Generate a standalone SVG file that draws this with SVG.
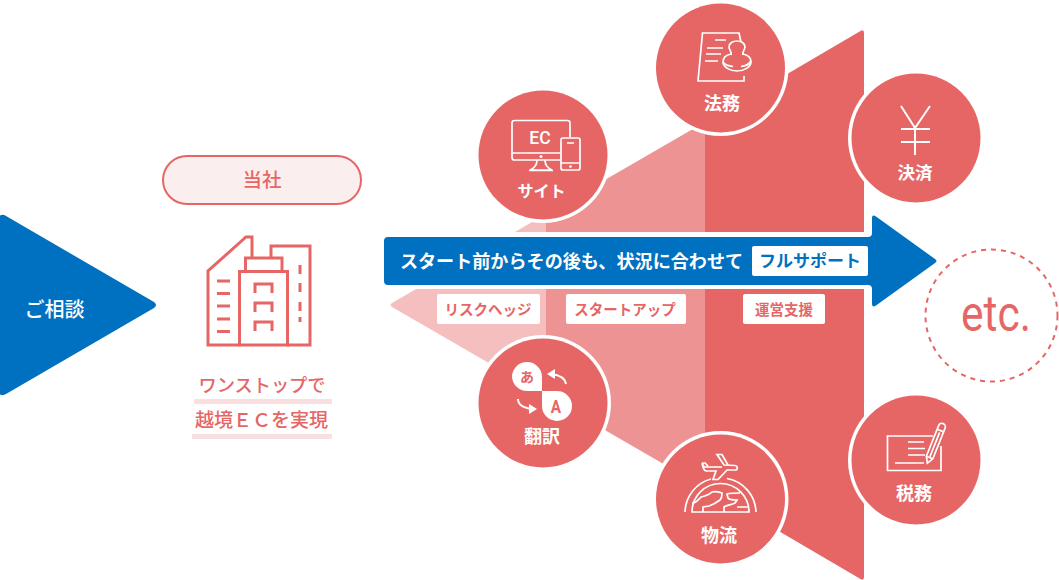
<svg xmlns="http://www.w3.org/2000/svg" width="1059" height="580" viewBox="0 0 1059 580">
<style>
text{font-family:"Noto Sans CJK JP","Noto Sans",sans-serif;font-weight:700;text-anchor:middle}
.w{fill:#fff}.r{fill:#e66666}.b{fill:#0070c0}
.ic{fill:none;stroke:#fff;stroke-width:1.7}
.ib{fill:none;stroke:#e66666;stroke-width:3}
.ring{fill:#fff}.disc{fill:#e66666}
.t16{font-size:16px}.t18{font-size:18px}.t14{font-size:14.500px}
</style>
<g id="funnel">
<path d="M546 214L392 303Q389 305 392 307L546 396Z" fill="#f5bfbf"/>
<path d="M546 214L705 122V488L546 396Z" fill="#ee9393"/>
<path d="M705 122L860.500 31Q864 29 864 33V577Q864 581 860.500 579L705 488Z" fill="#e66666"/>
<rect x="380" y="232" width="500" height="57" fill="#fff"/>
</g>
<g id="start">
<path d="M0 215.500Q3 214 6 216L154 302Q158 305 154 308L6 394Q3 396 0 394.500Z" class="b"/>
<text x="54.500" y="316.500" class="w" style="font-size:20px;font-weight:500">ご相談</text>
</g>
<g id="company">
<rect x="163" y="156" width="198" height="48" rx="24" fill="#fbeeee" stroke="#e66666" stroke-width="2"/>
<text x="262" y="187" class="r" style="font-size:19.500px;font-weight:500">当社</text>
<g class="ib">
<path d="M239 345H208V271L246 237H252V258"/>
<path d="M271 258V246H310V345H287"/>
<rect x="245.500" y="258" width="36.500" height="13.500"/>
<rect x="239.500" y="271.500" width="48" height="73.500"/>
<path d="M217 281H230M217 293.500H230M217 306H230M217 319H230M217 331.500H230"/>
<path d="M300 265V274M300 283V292M300 302V311M300 317V322" />
<path d="M255 293V284H272V293M255 312V303H272V312M255 331V322H272V331"/>
</g>
<rect x="194" y="399" width="138" height="5" fill="#f9dfe0"/>
<rect x="192" y="434" width="140" height="5" fill="#f9dfe0"/>
<text x="262" y="392" class="r" style="font-size:18.200px;font-weight:500">ワンストップで</text>
<text x="261.500" y="427" class="r" style="font-size:19px;font-weight:500">越境ＥＣを実現</text>
</g>
<g id="connectors">
<path d="M388 237H868Q872 237 872 233V218Q872 214 876 216.500L935 259Q938 261 935 263L876 305.500Q872 308 872 304V289Q872 285 868 285H388Q384 285 384 281V241Q384 237 388 237Z" class="b"/>
</g>
<g id="banner-labels">
<text x="571.500" y="267.500" class="w" style="font-size:18.100px">スタート前からその後も、状況に合わせて</text>
<rect x="752" y="246" width="116" height="30" rx="2" fill="#fff"/>
<text x="810" y="267" class="b" style="font-size:17px">フルサポート</text>
<rect x="437" y="294" width="103" height="30" rx="2" fill="#fff"/>
<text x="488" y="314.500" class="t14 r">リスクヘッジ</text>
<rect x="566" y="294" width="120" height="30" rx="2" fill="#fff"/>
<text x="625" y="314.500" class="t14 r">スタートアップ</text>
<rect x="743" y="294" width="82" height="30" rx="2" fill="#fff"/>
<text x="784" y="314.500" class="t14 r">運営支援</text>
</g>
<g id="site">
<circle cx="543" cy="155" r="68" class="ring"/><circle cx="543" cy="155" r="64.500" class="disc"/>
<g class="ic">
<path d="M560 160H514.500Q512 160 512 157.500V123Q512 120.500 514.500 120.500H567.500Q570 120.500 570 123V137"/>
<path d="M512.500 153H560M537 160Q537 167 530 170H552Q545 167 545 160M529 170.500H553"/>
<rect x="561" y="138" width="19" height="32" rx="2"/>
<path d="M561 163H580M567 143H574"/>
</g>
<circle cx="541" cy="156.500" r="1.500" fill="#fff"/><circle cx="570.500" cy="166.500" r="1.300" fill="#fff"/>
<text x="540" y="143.500" class="w" style="font-family:Roboto,sans-serif;font-size:17.500px;font-weight:500">EC</text>
<text x="541.500" y="197" class="t16 w">サイト</text>
</g>
<g id="legal">
<circle cx="720.500" cy="68" r="68" class="ring"/><circle cx="720.500" cy="68" r="64.500" class="disc"/>
<g class="ic">
<path d="M726 33H739L741 42M726 33H702.500L698 81H744V76"/>
<path d="M715 40H726M707 48H723M706 54H721M705 61H718"/>
<path d="M731 55C732 51 729 50 729 47C729 43 733 41 737 41C741 41 745 43 745 47C745 50 742 51 743 55"/>
<path d="M731 54C726 55 723 58 723 62C723 67 730 71 737 71C744 71 751 67 751 62C751 58 748 55 743 54"/>
<path d="M723 62C725 65 729 66 733 66.500M741 66.500C745 66 749 65 751 61"/>
</g>
<text x="722" y="110" class="t18 w">法務</text>
</g>
<g id="payment">
<circle cx="916" cy="138" r="68" class="ring"/><circle cx="916" cy="138" r="64.500" class="disc"/>
<path d="M901 106L915 128L930 106M915 128V155M901 129H930M901 142H930" class="ic" style="stroke-width:2"/>
<text x="915" y="179" class="w" style="font-size:17.500px">決済</text>
</g>
<g id="translate">
<circle cx="543" cy="403" r="68" class="ring"/><circle cx="543" cy="403" r="64.500" class="disc"/>
<path d="M527 362A15 15 0 0 1 542 377V391H527A15 15 0 0 1 512 376.500A15 15 0 0 1 527 362Z" fill="#fff"/>
<path d="M542 391H557A15 15 0 0 1 572 406A15 15 0 0 1 557 421A15 15 0 0 1 542 406Z" fill="#fff"/>
<text x="527" y="382" class="r" style="font-size:14px">あ</text>
<text transform="translate(556 413) scale(.85 1)" class="r" style="font-family:Roboto,sans-serif;font-size:18px">A</text>
<path d="M566 384C565 378 559 375 552 374" class="ic" style="stroke-width:2"/>
<path d="M547 374L555 369V379Z" fill="#fff"/>
<path d="M518 399C518 405 524 408 532 409" class="ic" style="stroke-width:2"/>
<path d="M537 409L529 404V414Z" fill="#fff"/>
<text x="542" y="443" class="t18 w">翻訳</text>
</g>
<g id="logistics">
<circle cx="720.500" cy="499" r="68" class="ring"/><circle cx="720.500" cy="499" r="64.500" class="disc"/>
<g class="ic">
<path d="M685 512A35 35 0 0 1 711 479M727 478.500A35 35 0 0 1 756 512"/>
<path d="M692 512A28.500 28.500 0 0 1 749 512Z"/>
<path d="M692 503C696 503 699 499 701 497C705 496 709 495 712 492C715 491 719 492 722 493C722 497 721 499 720 500C716 503 712 505 709 506L703 507V512"/>
<path d="M724 512V507C727 505 731 505 735 503L737 500C733 500 729 500 728 498L727 494C731 493 736 493 740 493M737 507H748"/>
<path d="M702 463L704 467H722M702 463H705L708 466M702 463C703 467 703 470 706 471H716L713 479.500H718L727 470H735C738 470 738 466 735 465.500L724 465L717 454.500H722L728 465"/>
</g>
<text x="719" y="542" class="t18 w">物流</text>
</g>
<g id="tax">
<circle cx="916" cy="460" r="68" class="ring"/><circle cx="916" cy="460" r="64.500" class="disc"/>
<g class="ic">
<path d="M933 436H887.500V470.500H941V446"/>
<path d="M908 442H924M908 448.500H925M908 455H925M895 463H924"/>
<g transform="translate(927 464) rotate(21.800)">
<path d="M-3.500 -7V-40A3.500 3.500 0 0 1 3.500 -40V-7L0 -1L-3.500 -7Z"/>
<path d="M-3.500 -7H3.500M0 -7V-34M-3.500 -36H3.500"/>
</g>
</g>
<text x="914" y="500" class="t18 w">税務</text>
</g>
<g id="etc">
<circle cx="991.500" cy="315.500" r="66" fill="none" stroke="#e66666" stroke-width="2" stroke-dasharray="5 5"/>
<text transform="translate(996 331) scale(.85 1)" x="0" y="0" class="r" style="font-family:Roboto,sans-serif;font-size:50px;font-weight:400">etc.</text>
</g>
</svg>
